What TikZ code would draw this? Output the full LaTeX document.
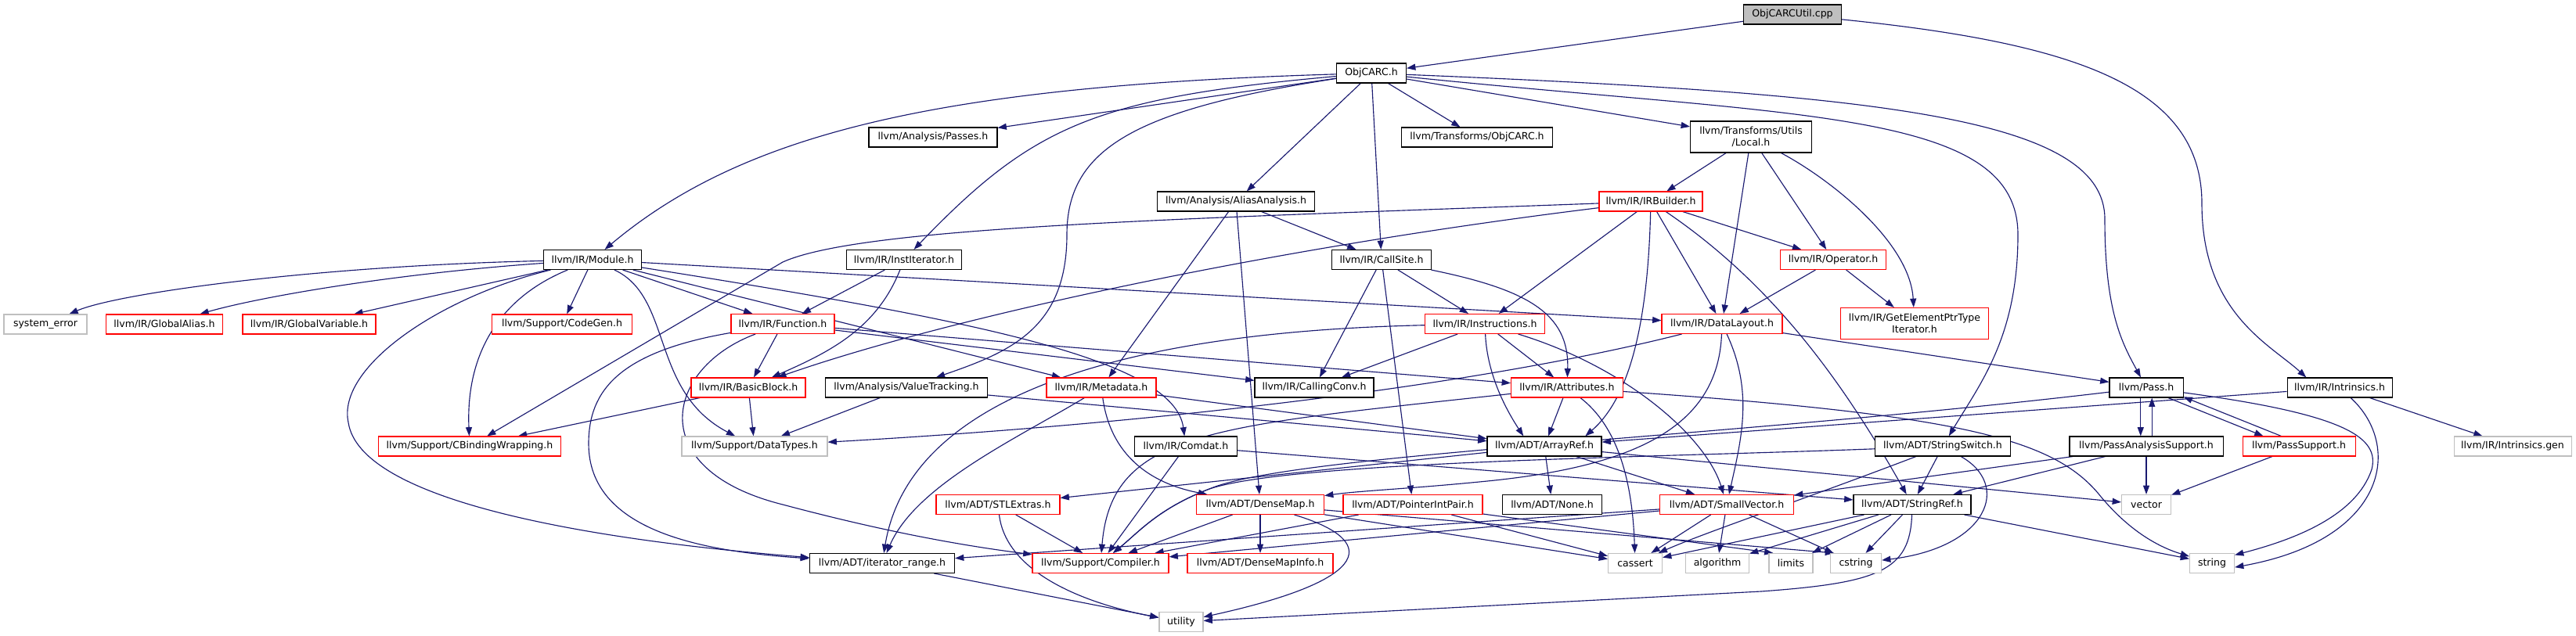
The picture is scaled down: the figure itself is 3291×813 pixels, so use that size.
\documentclass[tikz,border=0pt]{standalone}
\usepackage{fontspec}
\setmainfont{DejaVu Sans}
\usetikzlibrary{arrows.meta}
\definecolor{edgecol}{HTML}{191970}
\definecolor{redb}{HTML}{FF0000}
\definecolor{greyb}{HTML}{BFBFBF}
\definecolor{cppfill}{HTML}{BFBFBF}
\pgfdeclarelayer{bglayer}
\pgfdeclarelayer{edgelayer}
\pgfsetlayers{bglayer,edgelayer,main}
\begin{document}
\begin{tikzpicture}[x=0.75pt,y=-0.75pt,
  box/.style={draw, fill=white, rectangle, inner sep=0pt, minimum height=18.75pt,
    font=\fontsize{9.4pt}{11.25pt}\selectfont, line width=0.8pt},
  nb/.style={box, draw=black},
  rb/.style={box, draw=redb},
  gb/.style={box, draw=greyb},
  bw/.style={minimum width=#1*0.75pt},
  tall/.style={minimum height=30pt, align=center},
  dep/.style={draw=edgecol, line width=0.85pt, -{Triangle[length=8.5pt,width=6pt]}}]
\begin{pgfonlayer}{bglayer}
\fill[white] (0,0) rectangle (3291,813);
\end{pgfonlayer}
\useasboundingbox (0,0) rectangle (3291,813);

% nodes
\node[nb, bw=125, fill=cppfill] (cpp) at (2290,18.5) {ObjCARCUtil.cpp};
\node[nb, bw=89] (objcarc) at (1752,93.5) {ObjCARC.h};
\node[nb, bw=164] (passes) at (1192,175.5) {llvm/Analysis/Passes.h};
\node[nb, bw=193] (tobjcarc) at (1887,175.5) {llvm/Transforms/ObjCARC.h};
\node[nb, bw=155, tall] (local) at (2237,175) {llvm/Transforms/Utils\\/Local.h};
\node[nb, bw=201] (alias) at (1579,257.5) {llvm/Analysis/AliasAnalysis.h};
\node[rb, bw=132] (irbuilder) at (2109,257.5) {llvm/IR/IRBuilder.h};
\node[nb, bw=125] (module) at (757,332) {llvm/IR/Module.h};
\node[nb, bw=147] (institer) at (1155,332) {llvm/IR/InstIterator.h};
\node[nb, bw=127] (callsite) at (1765,332) {llvm/IR/CallSite.h};
\node[rb, bw=135] (operator) at (2342,332) {llvm/IR/Operator.h};
\node[gb, bw=106] (syserr) at (58,414.5) {system\_error};
\node[rb, bw=149] (galias) at (210,414.5) {llvm/IR/GlobalAlias.h};
\node[rb, bw=170] (gvar) at (395,414.5) {llvm/IR/GlobalVariable.h};
\node[rb, bw=179] (codegen) at (718,414.5) {llvm/Support/CodeGen.h};
\node[rb, bw=132] (function) at (1000,414) {llvm/IR/Function.h};
\node[rb, bw=153] (instr) at (1897,414) {llvm/IR/Instructions.h};
\node[rb, bw=154] (datalayout) at (2200,414) {llvm/IR/DataLayout.h};
\node[rb, bw=189, tall] (gepti) at (2446,413.5) {llvm/IR/GetElementPtrType\\Iterator.h};
\node[rb, bw=146] (basicblock) at (956,495.5) {llvm/IR/BasicBlock.h};
\node[nb, bw=207] (valuetracking) at (1158,495.5) {llvm/Analysis/ValueTracking.h};
\node[rb, bw=140] (metadata) at (1407,495.5) {llvm/IR/Metadata.h};
\node[nb, bw=152] (callingconv) at (1679,495.5) {llvm/IR/CallingConv.h};
\node[rb, bw=143] (attributes) at (2002,495.5) {llvm/IR/Attributes.h};
\node[nb, bw=94] (pass) at (2742,495.5) {llvm/Pass.h};
\node[nb, bw=134] (intrinsics) at (2989,495.5) {llvm/IR/Intrinsics.h};
\node[rb, bw=233] (cbinding) at (600,570.5) {llvm/Support/CBindingWrapping.h};
\node[gb, bw=186] (datatypes) at (964,570.5) {llvm/Support/DataTypes.h};
\node[nb, bw=131] (comdat) at (1515,570.5) {llvm/IR/Comdat.h};
\node[nb, bw=146] (arrayref) at (1973,570.5) {llvm/ADT/ArrayRef.h};
\node[nb, bw=173] (stringswitch) at (2482,570.5) {llvm/ADT/StringSwitch.h};
\node[nb, bw=196] (pas) at (2742,570.5) {llvm/PassAnalysisSupport.h};
\node[rb, bw=144] (passsupport) at (2937,570.5) {llvm/PassSupport.h};
\node[gb, bw=150] (intrgen) at (3210,570.5) {llvm/IR/Intrinsics.gen};
\node[rb, bw=158] (stlextras) at (1275,645) {llvm/ADT/STLExtras.h};
\node[rb, bw=163] (densemap) at (1610,645) {llvm/ADT/DenseMap.h};
\node[rb, bw=178] (pip) at (1805,645) {llvm/ADT/PointerIntPair.h};
\node[nb, bw=127] (none) at (1983,645) {llvm/ADT/None.h};
\node[rb, bw=171] (smallvector) at (2206,645) {llvm/ADT/SmallVector.h};
\node[nb, bw=150] (stringref) at (2443,645) {llvm/ADT/StringRef.h};
\node[gb, bw=63] (vector) at (2742,645) {vector};
\node[nb, bw=185] (iterrange) at (1127,720) {llvm/ADT/iterator\_range.h};
\node[rb, bw=174] (compiler) at (1406,720) {llvm/Support/Compiler.h};
\node[rb, bw=186] (densemapinfo) at (1610,720) {llvm/ADT/DenseMapInfo.h};
\node[gb, bw=69] (cassert) at (2089,720) {cassert};
\node[gb, bw=81] (algorithm) at (2194,720) {algorithm};
\node[gb, bw=56] (limits) at (2288,720) {limits};
\node[gb, bw=65] (cstring) at (2371,720) {cstring};
\node[gb, bw=57] (string) at (2826,720) {string};
\node[gb, bw=56] (utility) at (1509,795) {utility};

\begin{pgfonlayer}{edgelayer}
% ObjCARCUtil.cpp
\draw[dep] (cpp) -- (objcarc);
\draw[dep] (cpp) .. controls (2650,55) and (2813,110) .. (2813,260) .. controls (2813,400) and (2900,440) .. (intrinsics.163);
% ObjCARC.h
\draw[dep] (objcarc) .. controls (1200,110) and (950,170) .. (module);
\draw[dep] (objcarc) -- (passes);
\draw[dep] (objcarc) .. controls (1400,125) and (1320,160) .. (institer);
\draw[dep] (objcarc) .. controls (1450,140) and (1363,190) .. (1363,300) .. controls (1363,420) and (1290,450) .. (valuetracking);
\draw[dep] (objcarc) -- (alias);
\draw[dep] (objcarc) -- (callsite);
\draw[dep] (objcarc) -- (tobjcarc);
\draw[dep] (objcarc) -- (local);
\draw[dep] (objcarc) .. controls (2400,120) and (2689,150) .. (2689,280) .. controls (2689,400) and (2712,440) .. (pass);
\draw[dep] (objcarc) .. controls (2300,150) and (2578,140) .. (2578,300) .. controls (2578,430) and (2530,490) .. (stringswitch);
% Module.h
\draw[dep] (module) .. controls (400,340) and (150,375) .. (syserr);
\draw[dep] (module) .. controls (500,350) and (330,380) .. (galias);
\draw[dep] (module) -- (gvar);
\draw[dep] (module) -- (codegen);
\draw[dep] (module) -- (function);
\draw[dep] (module) .. controls (640,380) and (595,450) .. (cbinding);
\draw[dep] (module) .. controls (560,380) and (430,470) .. (445,540) .. controls (460,640) and (750,690) .. (iterrange);
\draw[dep] (module) .. controls (860,380) and (830,500) .. (datatypes);
\draw[dep] (module) -- (metadata);
\draw[dep] (module) .. controls (1250,410) and (1500,460) .. (comdat);
\draw[dep] (module) -- (datalayout);
% Local.h
\draw[dep] (local) -- (irbuilder);
\draw[dep] (local) -- (datalayout);
\draw[dep] (local) -- (operator);
\draw[dep] (local) .. controls (2340,230) and (2440,310) .. (gepti);
% AliasAnalysis.h
\draw[dep] (alias) -- (metadata);
\draw[dep] (alias) -- (densemap);
\draw[dep] (alias) -- (callsite);
% IRBuilder.h
\draw[dep] (irbuilder) .. controls (1500,280) and (1100,290) .. (1000,335) -- (cbinding);
\draw[dep] (irbuilder) .. controls (1600,320) and (1200,410) .. (basicblock);
\draw[dep] (irbuilder) -- (instr);
\draw[dep] (irbuilder) .. controls (2105,420) and (2080,510) .. (arrayref.14);
\draw[dep] (irbuilder) -- (datalayout);
\draw[dep] (irbuilder) .. controls (2260,360) and (2350,480) .. (stringref);
\draw[dep] (irbuilder) -- (operator);
% InstIterator.h
\draw[dep] (institer) -- (function);
\draw[dep] (institer) .. controls (1120,420) and (1060,450) .. (basicblock);
% CallSite.h
\draw[dep] (callsite) -- (callingconv);
\draw[dep] (callsite) -- (pip);
\draw[dep] (callsite) -- (instr);
\draw[dep] (callsite) .. controls (1950,370) and (2005,400) .. (attributes);
% Operator.h
\draw[dep] (operator) -- (datalayout);
\draw[dep] (operator) -- (gepti);
% Function.h
\draw[dep] (function) -- (basicblock);
\draw[dep] (function) -- (attributes);
\draw[dep] (function) -- (callingconv);
\draw[dep] (function) .. controls (850,470) and (820,600) .. (1000,645) .. controls (1150,685) and (1250,700) .. (compiler);
\draw[dep] (function) .. controls (790,450) and (752,500) .. (752,567) .. controls (752,680) and (900,705) .. (iterrange);
% Instructions.h
\draw[dep] (instr) .. controls (1400,425) and (1160,520) .. (iterrange);
\draw[dep] (instr) -- (callingconv);
\draw[dep] (instr) .. controls (1900,480) and (1925,525) .. (arrayref.154);
\draw[dep] (instr) -- (attributes);
\draw[dep] (instr) .. controls (2080,470) and (2180,560) .. (smallvector);
% DataLayout.h
\draw[dep] (datalayout) .. controls (1900,490) and (1500,540) .. (datatypes);
\draw[dep] (datalayout) .. controls (2195,540) and (2100,595) .. (1900,615) .. controls (1800,625) and (1740,627) .. (densemap);
\draw[dep] (datalayout) .. controls (2240,500) and (2225,560) .. (smallvector);
\draw[dep] (datalayout) -- (pass);
% BasicBlock.h
\draw[dep] (basicblock) -- (cbinding);
\draw[dep] (basicblock) -- (datatypes);
% ValueTracking.h
\draw[dep] (valuetracking) -- (datatypes);
\draw[dep] (valuetracking) -- (arrayref);
% Metadata.h
\draw[dep] (metadata) .. controls (1300,560) and (1170,620) .. (iterrange);
\draw[dep] (metadata) .. controls (1420,590) and (1480,620) .. (densemap);
\draw[dep] (metadata) -- (arrayref);
% Attributes.h
\draw[dep] (attributes) -- (arrayref);
\draw[dep] (attributes) .. controls (2060,540) and (2085,600) .. (cassert);
\draw[dep] (attributes) .. controls (2500,530) and (2620,560) .. (2680,630) .. controls (2720,680) and (2760,700) .. (string);
\draw[dep] (attributes) .. controls (1550,545) and (1420,550) .. (compiler);
% Pass.h
\draw[dep] (pass.-119) -- (pas.119);
\draw[dep] (pas.61) -- (pass.-61);
\draw[dep] (pass.-25) -- (passsupport.164);
\draw[dep] (passsupport.150) -- (pass.-14);
\draw[dep] (pass) .. controls (3000,530) and (3040,560) .. (3030,600) .. controls (3010,660) and (2930,690) .. (string.20);
\draw[dep] (pass) .. controls (2200,560) and (1650,580) .. (1545,625) .. controls (1480,650) and (1455,680) .. (compiler);
% PassAnalysisSupport.h
\draw[dep] (pas) -- (smallvector);
\draw[dep] (pas) -- (stringref);
\draw[dep] (pas) -- (vector);
% PassSupport.h
\draw[dep] (passsupport) -- (vector);
% Intrinsics.h
\draw[dep] (intrinsics) -- (arrayref);
\draw[dep] (intrinsics) .. controls (3070,570) and (3050,690) .. (string.-10);
\draw[dep] (intrinsics) -- (intrgen);
% StringSwitch.h
\draw[dep] (stringswitch) -- (stringref);
\draw[dep] (stringswitch) .. controls (2300,640) and (2180,680) .. (cassert);
\draw[dep] (stringswitch) .. controls (2570,620) and (2540,700) .. (cstring);
\draw[dep] (stringswitch) .. controls (2100,585) and (1650,590) .. (1545,625) .. controls (1480,650) and (1455,680) .. (compiler);
% StringRef.h
\draw[dep] (stringref) -- (cassert);
\draw[dep] (stringref) -- (algorithm);
\draw[dep] (stringref) -- (limits);
\draw[dep] (stringref) -- (cstring);
\draw[dep] (stringref) -- (string);
\draw[dep] (stringref) .. controls (2440,730) and (2400,745) .. (2250,756) -- (utility);
% SmallVector.h
\draw[dep] (smallvector) -- (iterrange);
\draw[dep] (smallvector) -- (compiler);
\draw[dep] (smallvector) -- (cassert);
\draw[dep] (smallvector) -- (algorithm);
\draw[dep] (smallvector) -- (cstring);
% DenseMap.h
\draw[dep] (densemap) -- (compiler);
\draw[dep] (densemap) -- (densemapinfo);
\draw[dep] (densemap) .. controls (1760,690) and (1760,740) .. (utility);
\draw[dep] (densemap) -- (cassert);
\draw[dep] (densemap) -- (cstring.155);
% PointerIntPair.h
\draw[dep] (pip) -- (compiler);
\draw[dep] (pip) -- (cassert);
\draw[dep] (pip) -- (limits.150);
% STLExtras.h
\draw[dep] (stlextras) -- (compiler);
\draw[dep] (stlextras) .. controls (1285,730) and (1380,770) .. (utility);
% ArrayRef.h
\draw[dep] (arrayref) -- (none);
\draw[dep] (arrayref) -- (smallvector);
\draw[dep] (arrayref) -- (vector);
\draw[dep] (arrayref) -- (stlextras);
% Comdat.h
\draw[dep] (comdat) -- (compiler);
\draw[dep] (comdat) -- (stringref);
% iterator_range.h
\draw[dep] (iterrange) -- (utility);
\end{pgfonlayer}
\end{tikzpicture}
\end{document}
